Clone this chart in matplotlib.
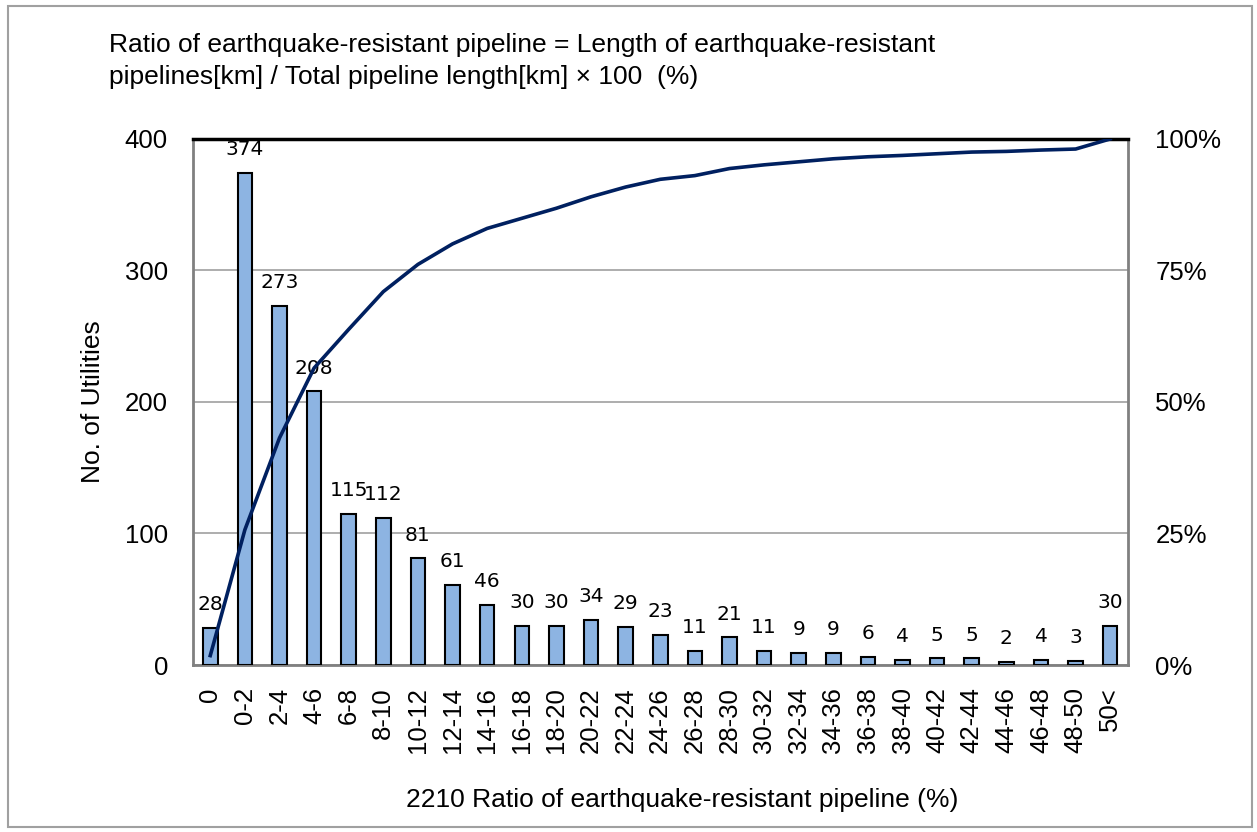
import numpy as np
import matplotlib
matplotlib.use('Agg')
import matplotlib.pyplot as plt
from matplotlib.patches import Rectangle

# categories of the ratio (%)
categories = ['0', '0-2', '2-4', '4-6', '6-8', '8-10', '10-12', '12-14', '14-16',
              '16-18', '18-20', '20-22', '22-24', '24-26', '26-28', '28-30',
              '30-32', '32-34', '34-36', '36-38', '38-40', '40-42', '42-44',
              '44-46', '46-48', '48-50', '50<']
# number of utilities per category
counts = [28, 374, 273, 208, 115, 112, 81, 61, 46, 30, 30, 34, 29, 23, 11, 21,
          11, 9, 9, 6, 4, 5, 5, 2, 4, 3, 30]

left_ticks = [0, 100, 200, 300, 400]
right_ticks = [0, 25, 50, 75, 100]

cum_pct = np.cumsum(counts) / np.sum(counts) * 100

plt.rcParams['font.family'] = ['Liberation Sans', 'DejaVu Sans']

fig = plt.figure(figsize=(12.57, 8.32), dpi=100)
fig.patches.append(Rectangle((0.006, 0.006), 0.99, 0.987, transform=fig.transFigure,
                             fill=False, edgecolor='#a0a0a0', linewidth=1.5))

ax = fig.add_axes([0.1535, 0.2007, 0.7435, 0.6323])
x = np.arange(len(categories))
ax.bar(x, counts, width=0.42, color='#8db4e2', edgecolor='black', linewidth=1.5, zorder=3)
for xi, c in zip(x, counts):
    ax.annotate(str(c), (xi, c), xytext=(0, 10), textcoords='offset points',
                ha='center', va='bottom', fontsize=14.5,
                family=['DejaVu Sans Condensed', 'DejaVu Sans'], zorder=4)

ax.set_xlim(-0.5, len(categories) - 0.5)
ax.set_ylim(0, 400)
ax.set_yticks(left_ticks)
ax.set_xticks(x)
ax.set_xticklabels(categories, rotation=90, fontsize=18.5)
ax.tick_params(axis='both', length=0, labelsize=18.5)
ax.tick_params(axis='x', pad=16)
ax.tick_params(axis='y', pad=18)
ax.yaxis.grid(True, color='#a0a0a0', linewidth=1.2, zorder=0)
ax.set_ylabel('No. of Utilities', fontsize=19)
ax.yaxis.set_label_coords(-0.094, 0.5)
ax.set_xlabel('2210 Ratio of earthquake-resistant pipeline (%)', fontsize=19)
ax.xaxis.set_label_coords(0.523, -0.257)
ax.xaxis.label.set_va('center')
for s in ['left', 'bottom', 'right']:
    ax.spines[s].set_color('#808080')
    ax.spines[s].set_linewidth(2)
ax.spines['top'].set_color('black')
ax.spines['top'].set_linewidth(2.5)

ax2 = ax.twinx()
ax2.plot(x, cum_pct, color='#002060', linewidth=2.6, zorder=5)
ax2.set_ylim(0, 100)
ax2.set_yticks(right_ticks)
ax2.set_yticklabels([f'{t}%' for t in right_ticks])
ax2.tick_params(axis='y', length=0, labelsize=18.5, pad=20)
for s in ax2.spines.values():
    s.set_visible(False)

fig.text(0.087, 0.946, 'Ratio of earthquake-resistant pipeline = Length of earthquake-resistant',
         fontsize=19, va='center')
fig.text(0.087, 0.908, 'pipelines[km] / Total pipeline length[km] \u00d7 100  (%)',
         fontsize=19, va='center')

plt.savefig('out.png', dpi=100)
